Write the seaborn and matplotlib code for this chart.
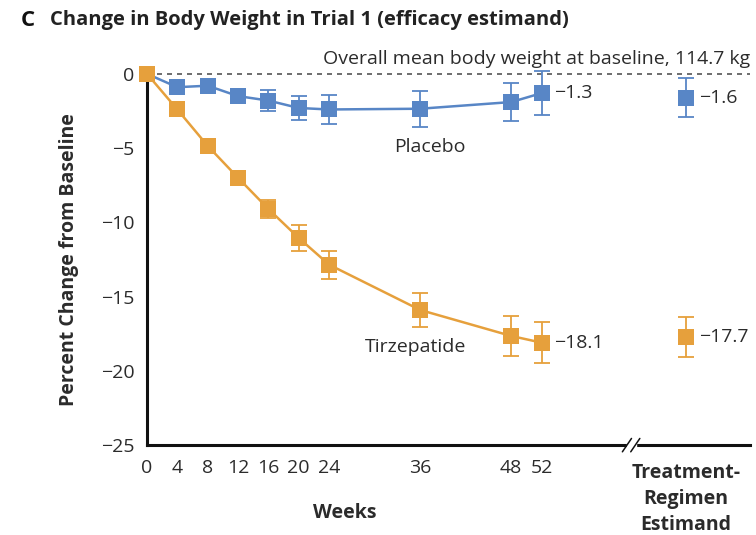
import numpy as np
import pandas as pd
import matplotlib
matplotlib.use("Agg")
import matplotlib.pyplot as plt
import seaborn as sns

# data (percent change from baseline)
weeks = [0, 4, 8, 12, 16, 20, 24, 36, 48, 52]
placebo = [0.0, -0.9, -0.8, -1.5, -1.8, -2.3, -2.4, -2.35, -1.9, -1.3]
placebo_err = [0.0, 0.2, 0.2, 0.35, 0.7, 0.8, 1.0, 1.2, 1.3, 1.5]
tirzepatide = [0.0, -2.4, -4.85, -7.0, -9.1, -11.05, -12.85, -15.9, -17.65, -18.1]
tirzepatide_err = [0.0, 0.2, 0.3, 0.4, 0.6, 0.9, 0.95, 1.15, 1.35, 1.4]

estimand_pos = 71
estimand_vals = [-1.6, -17.7]
estimand_err = [1.3, 1.35]

groups = ["Placebo", "Tirzepatide"]
end_labels = ["\u22121.3", "\u221218.1"]
estimand_labels = ["\u22121.6", "\u221217.7"]
week_ticks = [0, 4, 8, 12, 16, 20, 24, 36, 48, 52]
yticks = [0, -5, -10, -15, -20, -25]

colors = {"Placebo": "#5886c6", "Tirzepatide": "#e6a03c"}
text_color = "#2b2b2b"
fs = 14

sns.set_theme(style="white")
plt.rcParams["font.family"] = ["Open Sans", "DejaVu Sans"]

df = pd.DataFrame({
    "week": weeks * 2,
    "change": placebo + tirzepatide,
    "err": placebo_err + tirzepatide_err,
    "group": ["Placebo"] * len(weeks) + ["Tirzepatide"] * len(weeks),
})

fig = plt.figure(figsize=(7.56, 5.35), dpi=100)
ax = fig.add_axes([0.1944, 0.168, 0.798, 0.694])

# baseline dashed line
ax.axhline(0, color="#555555", lw=1.2, ls=(0, (3, 3)), zorder=1, clip_on=False)

# error bars, then lines with square markers (tirzepatide drawn last, on top at week 0)
for g in groups:
    sub = df[df["group"] == g]
    ax.errorbar(sub["week"], sub["change"], yerr=sub["err"], fmt="none",
                ecolor=colors[g], elinewidth=1.3, capsize=5.5, capthick=1.3,
                zorder=3, clip_on=False)
sns.lineplot(data=df, x="week", y="change", hue="group", palette=colors,
             marker="s", markersize=11.5, markeredgewidth=0, linewidth=1.8,
             legend=False, ax=ax, zorder=4, clip_on=False)

# treatment-regimen estimand points
est = pd.DataFrame({"x": [estimand_pos] * 2, "y": estimand_vals, "group": groups})
for i, g in enumerate(groups):
    ax.errorbar(estimand_pos, estimand_vals[i], yerr=estimand_err[i], fmt="none",
                ecolor=colors[g], elinewidth=1.3, capsize=5.5, capthick=1.3,
                zorder=3, clip_on=False)
sns.scatterplot(data=est, x="x", y="y", hue="group", palette=colors, marker="s",
                s=130, linewidth=0, legend=False, ax=ax, zorder=4, clip_on=False)

# value labels
for i, g in enumerate(groups):
    last = placebo[-1] if g == "Placebo" else tirzepatide[-1]
    ax.text(53.6, last, end_labels[i], fontsize=fs, color=text_color,
            va="center", ha="left")
    ax.text(estimand_pos + 1.7, estimand_vals[i], estimand_labels[i],
            fontsize=fs, color=text_color, va="center", ha="left")

ax.text(37.3, -4.9, "Placebo", fontsize=fs, color=text_color, ha="center", va="center")
ax.text(35.4, -18.4, "Tirzepatide", fontsize=fs, color=text_color, ha="center", va="center")

ax.set_xlim(0, 79.5)
ax.set_ylim(-25, 0)
ax.set_xticks(week_ticks + [estimand_pos])
ax.set_xticklabels([str(w) for w in week_ticks] + [""])
ax.set_yticks(yticks)
ax.set_yticklabels([str(v).replace("-", "\u2212") for v in yticks])
ax.tick_params(axis="both", direction="out", length=8, width=2, colors="#111111",
               labelsize=fs, labelcolor=text_color, pad=1)
ax.tick_params(axis="x", pad=2)
ax.set_xlabel("")
ax.set_ylabel("Percent Change from Baseline", fontsize=fs, fontweight="bold",
              color=text_color, labelpad=16)

for side in ["top", "right"]:
    ax.spines[side].set_visible(False)
for side in ["left", "bottom"]:
    ax.spines[side].set_color("#111111")
    ax.spines[side].set_linewidth(2.2)

# axis break marks on x axis
bx = 63.8
ax.add_patch(plt.Rectangle((bx - 0.6, -25.3), 1.2, 0.6, color="white",
                           zorder=5, clip_on=False, transform=ax.transData))
for dx in (-0.55, 0.55):
    ax.plot([bx + dx - 0.6, bx + dx + 0.6], [-25.45, -24.55], color="#111111",
            lw=1.1, clip_on=False, zorder=6)

ax.text(26, -29.6, "Weeks", fontsize=fs, fontweight="bold",
        color=text_color, ha="center", va="center")
ax.text(estimand_pos, -26.2, "Treatment-\nRegimen\nEstimand", fontsize=fs,
        fontweight="bold", color=text_color, ha="center", va="top", linespacing=1.4)

ax.text(1.0, 1.015, "Overall mean body weight at baseline, 114.7 kg",
        transform=ax.transAxes, fontsize=fs, color=text_color, ha="right", va="bottom")

fig.text(0.028, 0.962, "C", fontsize=16, fontweight="bold", color="#111111", va="center")
fig.text(0.066, 0.962, "Change in Body Weight in Trial 1 (efficacy estimand)",
         fontsize=14.5, fontweight="bold", color="#222222", va="center")

fig.savefig("out.png", dpi=100)
